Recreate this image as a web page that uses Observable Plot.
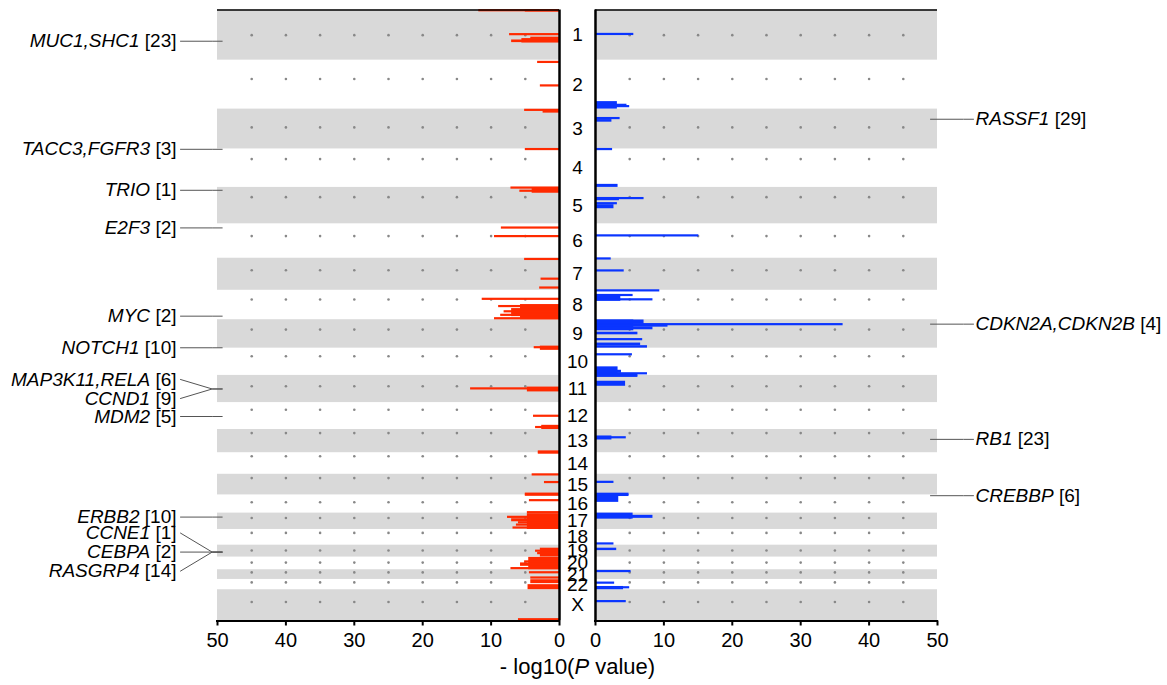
<!DOCTYPE html>
<html><head><meta charset="utf-8">
<script src="https://cdn.jsdelivr.net/npm/d3@7"></script>
<script src="https://cdn.jsdelivr.net/npm/@observablehq/plot@0.6"></script>
<style>body{margin:0;background:#fff;}#chart{width:1167px;height:685px;}</style>
</head><body><div id="chart"></div>
<script>
// ---------------- DATA ----------------
const chromosomes = ["1","2","3","4","5","6","7","8","9","10","11","12","13","14","15","16","17","18","19","20","21","22","X"];
const chromLengths = [249.25,243.2,198.0,191.15,180.9,171.1,159.1,146.4,141.2,135.5,135.0,133.9,115.2,107.3,102.5,90.4,81.2,78.1,59.1,63.0,48.1,51.3,155.3];
const centromeres = [125.0,93.3,91.0,50.4,48.4,61.0,59.9,45.6,49.0,40.2,53.7,35.8,17.9,17.6,19.0,36.6,24.0,17.2,26.5,27.5,13.2,14.7,60.6];
const gridValues = [5,10,15,20,25,30,35,40,45];
const xTicks = [0,10,20,30,40,50];
const axisTitle = ["- log10(", "P", "value)"];

// amplifications: [chromosome, start Mb, end Mb, -log10 P]
const ampSegments = [
 ["1",0,7.5,11.8],["1",0,10,5.0],["1",119,126,7.3],["1",137,144,4.2],["1",142,164,5.5],["1",149,162,7.0],
 ["2",7.5,15,3.2],["2",124,132,2.8],
 ["3",2.5,10,5.1],["3",5,20,2.4],
 ["4",0,6,5.0],
 ["5",0,6.5,7.1],["5",1.5,29,4.0],["5",14,24,5.8],
 ["6",17,25,8.5],["6",60,67,9.5],
 ["7",1,11,5.1],["7",100,108,2.7],["7",144,152,2.9],
 ["8",41,49,11.3],["8",71,146.4,5.7],["8",76,86,8.9],["8",91,131,7.0],["8",103,111,8.1],["8",121,128,8.6],["8",137,146,9.5],
 ["9",132,141.2,2.8],["9",137,141,3.7],["10",0,11,2.8],
 ["11",58,82,4.7],["11",64,70,13.0],
 ["12",63,73,3.8],["12",113,133.9,2.6],["12",120,128,3.5],
 ["13",108,115.2,3.1],["14",0,4,3.1],
 ["15",0,6,4.0],["15",37,45,2.2],["15",95,102.5,5.0],
 ["16",0,3,5.0],["16",25,32,4.4],["16",86,90.4,4.7],
 ["17",3,81.2,4.7],["17",16,26,7.6],["17",28,43,7.0],["17",43,53,6.0],["17",56,63,6.3],["17",70,78,6.8],
 ["19",15,59,2.8],["19",25,35,3.5],["19",37,47,3.2],
 ["20",1.5,63,4.5],["20",19,29,5.1],["20",29,46,5.7],["20",54,61,7.1],
 ["21",10,20,4.4],["21",37,45,4.2],
 ["22",1.5,21,4.2],["22",26,51,4.6],
 ["X",144,154,6.0]
];
// deletions: [chromosome, start Mb, end Mb, -log10 P]
const delSegments = [
 ["1",118,125,5.6],
 ["2",206,243.2,3.2],["2",219,231,4.6],["2",226,236,5.0],
 ["3",42,52,3.6],["3",52,65,2.4],
 ["4",0,6,2.5],["4",176,191.1,3.3],
 ["5",50,66,3.5],["5",51,60,7.1],["5",76,86,3.2],["5",86,106,2.7],
 ["6",56,64,15.1],
 ["7",0,7,2.3],["7",58,68,4.2],
 ["8",0,6,9.4],["8",21,55,3.7],["8",21,31,5.5],["8",44,51,8.4],
 ["9",1.5,55,5.6],["9",1.5,22,7.1],["9",22,27,36.2],["9",27,36,10.6],["9",36,50,8.4],["9",62,75,6.2],["9",94,104,6.9],["9",116,129,6.6],["9",129,141.2,7.6],
 ["10",28,38,5.4],["10",93,135.5,3.3],["10",110,125,3.8],["10",123,132,7.6],["10",132,135.5,6.2],
 ["11",0,9,6.2],["11",29,54,4.4],
 ["13",32,52,2.4],["13",37,45,4.5],
 ["15",36,44,2.7],["15",96,102.5,4.9],
 ["16",0,5,4.9],["16",5,37,3.4],
 ["17",0,30,5.5],["17",11,26,8.4],
 ["18",68,76,2.7],
 ["19",15,27,3.1],
 ["21",5,13,5.2],
 ["22",14,23,2.8],["22",35,51.3,4.1],["22",37,46,5.0],
 ["X",55,63,4.5]
];
// gene annotations: [genes, count, chromosome, Mb]
const ampGenes = [
 ["MUC1,SHC1",23,"1",155.2],["TACC3,FGFR3",3,"4",1.8],["TRIO",1,"5",14.3],["E2F3",2,"6",20.4],
 ["MYC",2,"8",128.7],["NOTCH1",10,"9",139.4],["MAP3K11,RELA",6,"11",65.4],["CCND1",9,"11",69.5],
 ["MDM2",5,"12",69.2],["ERBB2",10,"17",37.8],["CCNE1",1,"19",30.3],["CEBPA",2,"19",33.8],["RASGRP4",14,"19",38.9]
];
const delGenes = [
 ["RASSF1",29,"3",50.4],["CDKN2A,CDKN2B",4,"9",22.0],["RB1",23,"13",48.9],["CREBBP",6,"16",3.8]
];

// ---------------- LAYOUT ----------------
const W = 1167, H = 685;
const X0 = 217, X1 = 937, Y0 = 9.5, Y1 = 620.5;
const G = 2.63, XMAX = 50 + G;
const ppu = (X1 - X0) / (2 * XMAX);
const total = d3.sum(chromLengths);
const ppm = (Y1 - Y0) / total;
const px = p => p / ppu, pm = p => p / ppm;
const offset = new Map(); { let a = 0; chromosomes.forEach((c, i) => { offset.set(c, a); a += chromLengths[i]; }); }
const gpos = (c, p) => offset.get(c) + p;
const FONT = '"Liberation Sans", Arial, sans-serif';
const NARROW = '"Liberation Sans Narrow", "Arial Narrow", "Liberation Sans", Arial, sans-serif';
const ctx = document.createElement("canvas").getContext("2d");
const tw = (t, f) => { ctx.font = f; return ctx.measureText(t).width; };

const marks = [];
const sides = [-1, 1];
// grey bands
const bands = chromosomes.map((c, i) => ({ i, y1: offset.get(c), y2: offset.get(c) + chromLengths[i] })).filter(d => d.i % 2 === 0);
marks.push(Plot.rect(sides.flatMap(s => bands.map(b => ({ ...b, s }))), { x1: d => d.s * G, x2: d => d.s * XMAX, y1: "y1", y2: "y2", fill: "#d9d9d9" }));
// centromere dots
const dots = sides.flatMap(s => chromosomes.flatMap((c, i) => gridValues.map(v => ({ x: s * (v + G), y: gpos(c, centromeres[i]) }))));
marks.push(Plot.dot(dots, { x: "x", y: "y", r: 1.3, fill: "#888" }));
// bars (at least ~2px tall so that narrow peaks remain visible)
const minH = pm(2.2);
const toSeg = (arr, s) => arr.map(([c, a, b, v]) => {
  let y1 = gpos(c, a), y2 = gpos(c, b);
  if (y2 - y1 < minH) { const m = (y1 + y2) / 2; y1 = m - minH / 2; y2 = m + minH / 2; }
  return { y1, y2, x1: s * G, x2: s * (v + G) };
});
marks.push(Plot.rect(toSeg(ampSegments, -1), { x1: "x1", x2: "x2", y1: "y1", y2: "y2", fill: "#ff2a00" }));
marks.push(Plot.rect(toSeg(delSegments, 1), { x1: "x1", x2: "x2", y1: "y1", y2: "y2", fill: "#0a35ff" }));
// frame lines
marks.push(Plot.ruleY([0], { x1: -XMAX, x2: -G, stroke: "#000", strokeWidth: 1.5 }));
marks.push(Plot.ruleY([0], { x1: G, x2: XMAX, stroke: "#000", strokeWidth: 1.5 }));
marks.push(Plot.ruleX([-G, G], { y1: 0, y2: total, stroke: "#000", strokeWidth: 2.5 }));
marks.push(Plot.ruleY([total], { x1: -XMAX - px(1), x2: -G + px(1), stroke: "#000", strokeWidth: 2 }));
marks.push(Plot.ruleY([total], { x1: G - px(1), x2: XMAX + px(1), stroke: "#000", strokeWidth: 2 }));
const tickData = sides.flatMap(s => xTicks.map(t => ({ x: s * (t + G), t })));
marks.push(Plot.ruleX(tickData, { x: "x", y1: total, y2: total + pm(5), stroke: "#000", strokeWidth: 2 }));
marks.push(Plot.text(tickData, { x: "x", y: total, dy: 20, text: d => String(d.t), fontSize: 20, fontFamily: NARROW }));
// axis title with italic P
{
  const fs = 22;
  const w1 = tw(axisTitle[0], `${fs}px ${NARROW}`), w2 = tw(axisTitle[1], `italic ${fs}px ${NARROW}`),
        ws = tw(" ", `${fs}px ${NARROW}`), w3 = tw(axisTitle[2], `${fs}px ${NARROW}`);
  const wt = w1 + w2 + ws + w3;
  const base = { x: 0, y: total, dy: 46, fontSize: fs, fontFamily: NARROW, textAnchor: "start" };
  marks.push(Plot.text([axisTitle[0]], { ...base, text: d => d, dx: -wt / 2 }));
  marks.push(Plot.text([axisTitle[1]], { ...base, text: d => d, dx: -wt / 2 + w1, fontStyle: "italic" }));
  marks.push(Plot.text([axisTitle[2]], { ...base, text: d => d, dx: -wt / 2 + w1 + w2 + ws }));
}
// chromosome labels
marks.push(Plot.text(chromosomes.map((c, i) => ({ c, y: offset.get(c) + chromLengths[i] / 2 })), { x: 0, y: "y", text: "c", fontSize: 19, fontFamily: FONT }));

// gene annotations
function groups(list) {
  const out = [];
  for (const g of list) {
    const last = out[out.length - 1];
    if (last && last[0][2] === g[2] && g[3] - last[last.length - 1][3] < 10) last.push(g); else out.push([g]);
  }
  return out;
}
const LFS = 19;
const fR = `${LFS}px ${FONT}`, fI = `italic ${LFS}px ${FONT}`;
const linePts = [];
function annotate(list, s) {
  const items = [];
  for (const grp of groups(list)) {
    const anchor = d3.mean(grp, g => gpos(g[2], g[3]));
    grp.forEach((g, i) => items.push({ g, anchor, single: grp.length === 1, ly: anchor + pm((i - (grp.length - 1) / 2) * 19) }));
  }
  items.sort((a, b) => a.ly - b.ly);
  const gap = pm(16);
  for (let i = items.length - 2; i >= 0; i--) if (items[i].ly > items[i + 1].ly - gap) items[i].ly = items[i + 1].ly - gap;
  items.forEach((it, id) => {
    const { g, ly } = it;
    const anchor = it.single ? ly : it.anchor;
    const key = s + "_" + id;
    const bracket = `[${g[1]}]`;
    if (s < 0) {
      const tEnd = -XMAX - px(41);
      linePts.push({ key, x: -XMAX - px(37), y: ly }, { key, x: -XMAX - px(5.3), y: anchor }, { key, x: -XMAX + px(4.7), y: anchor });
      marks.push(Plot.text([g], { x: tEnd, y: ly, text: () => bracket, textAnchor: "end", fontSize: LFS, fontFamily: FONT }));
      marks.push(Plot.text([g], { x: tEnd, y: ly, text: d => d[0], textAnchor: "end", fontStyle: "italic", fontSize: LFS, fontFamily: FONT, dx: -(tw(bracket, fR) + tw(" ", fR)) }));
    } else {
      const tStart = XMAX + px(38);
      linePts.push({ key, x: XMAX - px(7), y: anchor }, { key, x: XMAX + px(26), y: anchor }, { key, x: XMAX + px(36), y: ly });
      marks.push(Plot.text([g], { x: tStart, y: ly, text: d => d[0], textAnchor: "start", fontStyle: "italic", fontSize: LFS, fontFamily: FONT }));
      marks.push(Plot.text([g], { x: tStart, y: ly, text: () => bracket, textAnchor: "start", fontSize: LFS, fontFamily: FONT, dx: tw(g[0], fI) + tw(" ", fR) }));
    }
  });
}
annotate(ampGenes, -1);
annotate(delGenes, 1);
marks.push(Plot.line(linePts, { x: "x", y: "y", z: "key", stroke: "#555", strokeWidth: 1 }));

const chart = Plot.plot({
  width: W, height: H,
  marginTop: Y0, marginBottom: H - Y1, marginLeft: X0, marginRight: W - X1,
  x: { domain: [-XMAX, XMAX], range: [X0, X1], axis: null },
  y: { domain: [0, total], range: [Y0, Y1], axis: null },
  style: { fontFamily: FONT, background: "#fff", color: "#000" },
  marks
});
document.getElementById("chart").appendChild(chart);
</script>
</body></html>
